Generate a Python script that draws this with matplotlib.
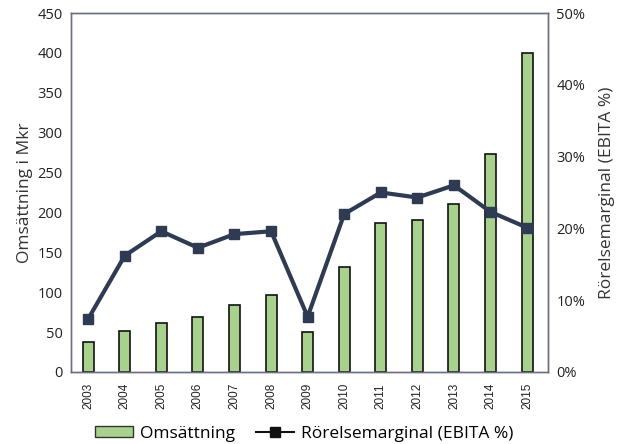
import matplotlib.pyplot as plt
from matplotlib.ticker import FuncFormatter
from matplotlib.patches import Patch
from matplotlib.lines import Line2D

years = ["2003", "2004", "2005", "2006", "2007", "2008", "2009",
         "2010", "2011", "2012", "2013", "2014", "2015"]
omsattning = [37, 51, 61, 69, 84, 97, 50, 132, 187, 190, 210, 273, 400]
marginal = [7.4, 16.2, 19.6, 17.3, 19.2, 19.6, 7.7, 22.0, 25.0, 24.3, 26.0, 22.3, 20.1]

plt.rcParams['font.family'] = ['Open Sans', 'DejaVu Sans']

bar_color = '#A9D18E'
line_color = '#2E3B53'
spine_color = '#6B7080'

fig = plt.figure(figsize=(6.21, 4.44), dpi=100)
ax = fig.add_axes([0.1143, 0.1622, 0.7681, 0.8085])
x = list(range(len(years)))

ax.bar(x, omsattning, width=0.3, color=bar_color, edgecolor='#111111', linewidth=1.2, zorder=2)
ax.set_ylim(0, 450)
ax.set_yticks(range(0, 451, 50))
ax.set_xlim(-0.47, 12.57)
ax.set_xticks(x)
ax.set_xticklabels(years, rotation=90, fontsize=8.5, family='Liberation Sans')
ax.tick_params(axis='both', length=0, colors='#222222')
ax.tick_params(axis='y', labelsize=10.5, pad=6)
ax.tick_params(axis='x', pad=8)
ax.set_ylabel("Omsättning i Mkr", fontsize=12.5, color='#333333', labelpad=3)

ax2 = ax.twinx()
ax2.plot(x, marginal, color=line_color, linewidth=3, marker='s', markersize=7.5, zorder=3)
ax2.set_ylim(0, 50)
ax2.set_yticks(range(0, 51, 10))
ax2.yaxis.set_major_formatter(FuncFormatter(lambda v, p: f"{int(v)}%"))
ax2.tick_params(axis='y', length=0, labelsize=10.5, pad=6, colors='#222222')
ax2.set_ylabel("Rörelsemarginal (EBITA %)", fontsize=12.5, color='#333333', labelpad=10)

for a in (ax, ax2):
    for s in a.spines.values():
        s.set_color(spine_color)
        s.set_linewidth(1.0)

handles = [Patch(facecolor=bar_color, edgecolor='#333333', linewidth=1),
           Line2D([0], [0], color='#111111', linewidth=1.5, marker='s', markersize=7)]
fig.legend(handles, ["Omsättning", "Rörelsemarginal (EBITA %)"], loc='lower center',
           bbox_to_anchor=(0.49, -0.03), ncol=2, frameon=False, fontsize=12.5,
           handlelength=2.2, handleheight=0.6, columnspacing=1.2, handletextpad=0.4)

fig.savefig("out.png", dpi=100)
